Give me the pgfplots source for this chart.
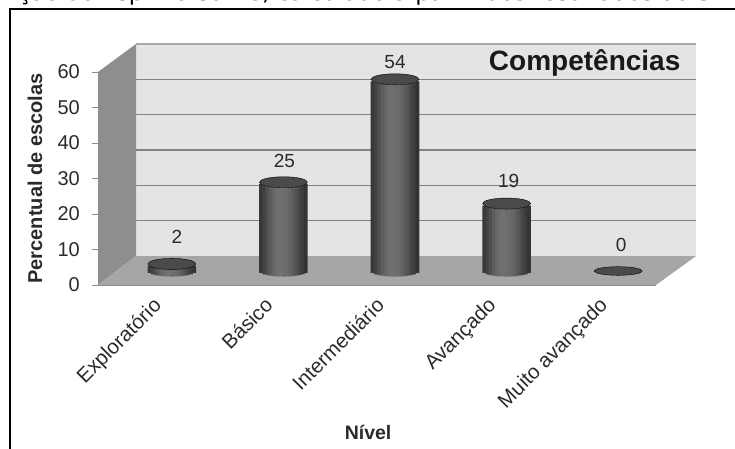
\documentclass[border=0pt]{standalone}
\usepackage{fontspec}
\setmainfont{Liberation Sans}
\newfontfamily\headfont{DejaVu Sans}
\usepackage{pgfplots}
\usepackage{pgfplotstable}
\pgfplotsset{compat=1.18}
\pgfplotsset{/pgf/number format/assume math mode=true}
\definecolor{wallback}{HTML}{E4E4E4}
\definecolor{wallside}{HTML}{8E8E8E}
\definecolor{floorc}{HTML}{A6A6A6}
\definecolor{gridc}{HTML}{828282}
\definecolor{tickc}{HTML}{8C8C8C}
\definecolor{txt}{HTML}{2A2A2A}
\definecolor{cyltop}{HTML}{4A4A4A}

\pgfplotstableread{
pos value
0 2
1 25
2 54
3 19
}\cylinders

% one vertical slice of all cylinders: offset, drop of its lower end, grey level
\newcommand{\slice}[3]{%
  \addplot[ybar, bar width=3.8pt, bar shift=#1pt, draw=none,
    fill=black!#3!white, yshift=-#2pt]
    table[x=pos, y=value] {\cylinders};
}
% label of one level: position, value, gap above the top, sideways shift
\newcommand{\levellabel}[4]{%
  \addplot[only marks, mark=none, nodes near coords, point meta=y,
    nodes near coords style={font=\fontsize{19}{21}\selectfont, text=txt,
      anchor=south, yshift=#3, xshift=#4, inner sep=0pt}]
    coordinates {(#1,#2)};
}

\begin{document}
\begin{tikzpicture}[x=1pt,y=1pt]
\clip (0,0) rectangle (735,448);
\path (0,0) rectangle (735,448);

% running text of the page above the figure
\node[anchor=base west, inner sep=0pt, font=\headfont\fontsize{23}{25}\selectfont, text=black]
  at (18,447.6) {ção do Espírito Santo, calculado a partir dos resultados do S};

% frame
\draw[black, line width=2pt] (10,-2) -- (10,439) -- (737,439);

% back wall with its gridlines
\begin{axis}[
  at={(136pt,192pt)}, anchor=south west, scale only axis,
  width=560pt, height=212pt,
  xmin=0, xmax=1, ymin=0, ymax=60,
  xtick=\empty, ytick={10,20,30,40,50},
  ymajorgrids, grid style={gridc, line width=1.1pt},
  major tick length=0pt, yticklabels={},
  axis line style={draw=none},
  axis background/.style={fill=wallback},
]
\addplot[draw=none] coordinates {(0,0) (1,60)};
\end{axis}
\draw[gridc!60!wallback, line width=1.2pt] (136,404) -- (696,404);

% left wall and floor
\fill[wallside] (98,163) -- (136,192) -- (136,404) -- (98,376) -- cycle;
\fill[floorc] (98,163) -- (136,192) -- (696,192) -- (656,163) -- cycle;

% front axis carrying ticks and labels
\begin{axis}[
  at={(98pt,163pt)}, anchor=south west, scale only axis,
  width=558pt, height=213pt,
  xmin=-0.5, xmax=4.5, ymin=0, ymax=60,
  clip=false,
  axis x line*=bottom, axis y line*=left,
  axis line style={tickc, -},
  tick style={tickc, line width=0.8pt},
  ytick={0,10,...,60}, tick align=outside,
  major tick length=6pt,
  xtick={0,1,2,3,4},
  xticklabels={Exploratório,Básico,Intermediário,Avançado,Muito avançado},
  x tick style={draw=none},
  minor xtick={-0.5,0.5,1.5,2.5,3.5,4.5},
  minor tick length=6pt,
  minor x tick style={tickc, line width=0.8pt},
  yticklabel style={font=\fontsize{20}{22}\selectfont, text=txt, inner sep=0pt, xshift=-12pt, anchor=east},
  xticklabel style={font=\fontsize{20.5}{22}\selectfont, text=txt, rotate=45,
    anchor=north east, inner sep=0pt, xshift=-5pt, yshift=-2pt},
  ylabel={\textbf{Percentual de escolas}},
  ylabel style={font=\fontsize{20}{22}\selectfont, text=txt, at={(axis description cs:0,0.5)}, anchor=center, yshift=63pt},
  xlabel={\textbf{Nível}},
  xlabel style={font=\fontsize{19.5}{21}\selectfont, text=txt, at={(axis cs:1.92,0)}, anchor=center, yshift=-147pt},
]
\addplot[draw=none] coordinates {(0,0) (4,60)};
\node[anchor=base east, inner sep=0pt, font=\bfseries\fontsize{28}{30}\selectfont, text=black!90]
  at (axis cs:4.72,60.3) {Competências};
\end{axis}

% cylinders, standing at the middle of the floor's depth
\begin{axis}[
  at={(116pt,177pt)}, anchor=south west, scale only axis,
  width=558pt, height=213pt,
  xmin=-0.5, xmax=4.5, ymin=0, ymax=60,
  clip=false, hide axis,
]
\slice{-22.4}{1.98}{78}
\slice{-19.2}{3.3}{74}
\slice{-16}{4.1}{69}
\slice{-12.8}{4.65}{64}
\slice{-9.6}{5.04}{60}
\slice{-6.4}{5.3}{57}
\slice{-3.2}{5.45}{56}
\slice{0}{5.5}{57}
\slice{3.2}{5.45}{58}
\slice{6.4}{5.3}{60}
\slice{9.6}{5.04}{63}
\slice{12.8}{4.65}{67}
\slice{16}{4.1}{72}
\slice{19.2}{3.3}{76}
\slice{22.4}{1.98}{80}
% upper discs
\addplot[only marks, mark=*, mark size=24pt,
  mark options={yscale=0.23, fill=cyltop, draw=none}]
  table[x=pos, y=value] {\cylinders};
% empty level: only the disc on the floor
\addplot[only marks, mark=*, mark size=24pt,
  mark options={yscale=0.18, fill=cyltop, draw=none}]
  coordinates {(4,0)};
\levellabel{0}{2}{20pt}{5pt}
\levellabel{1}{25}{14pt}{1pt}
\levellabel{2}{54}{10pt}{0pt}
\levellabel{3}{19}{16pt}{2pt}
\levellabel{4}{0}{19pt}{3pt}
\end{axis}
\end{tikzpicture}
\end{document}
